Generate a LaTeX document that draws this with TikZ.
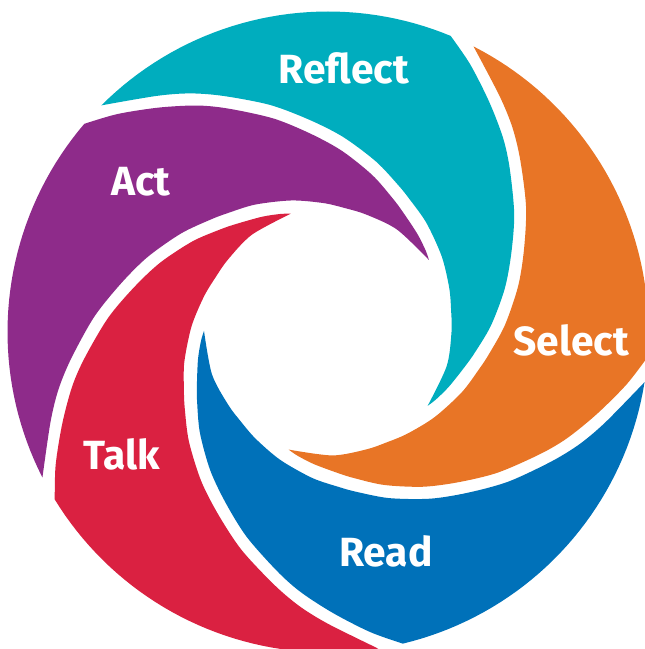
\documentclass[tikz,border=0pt]{standalone}
\usepackage{fontspec}
\setmainfont{Fira Sans}
\usepackage{tikz}
\definecolor{reflectteal}{RGB}{0,173,190}
\definecolor{selectorange}{RGB}{232,117,38}
\definecolor{readblue}{RGB}{0,113,185}
\definecolor{talkred}{RGB}{218,33,65}
\definecolor{actpurple}{RGB}{142,43,138}
\newcommand{\labelfont}{\fontsize{29}{30}\selectfont\bfseries}
% one swirl segment, inner edge, outer rim, then the edge along the next one
\newcommand{\petalpath}{plot[smooth] coordinates {(-36.5:124) (-16:123.5) (0:123.5) (10:125) (20:129) (33.5:136.5) (47.8:146.8) (58.2:155.6) (64.2:162.5) (74.2:177) (85.5:195.5) (94.9:212.8) (104.3:234.3) (113.9:258.2) (120:275.5) (126:291.8) (135:320.5)}
    -- plot[domain=135:67.5, samples=40] (\x:320.5)
    -- plot[smooth] coordinates {(67.5:320.5) (62:303) (55:281) (48:261.5) (42:244.5) (32.3:220.3) (22.9:198.8) (13.5:181.5) (2.2:163) (-7.8:148.5) (-13.8:141.6) (-24.2:132.8) (-32:127.3) (-36.5:124)}
    -- cycle}

\begin{document}
\begin{tikzpicture}[x=0.025cm, y=0.025cm, lbl/.style={text=white, font=\labelfont, anchor=base, inner sep=0pt}]

    \useasboundingbox (-328,-317) rectangle (316,332);

    \fill[reflectteal] \petalpath;
    \begin{scope}[rotate=-72]
        \fill[selectorange] \petalpath;
    \end{scope}
    \begin{scope}[rotate=-144]
        \fill[readblue] \petalpath;
    \end{scope}
    \begin{scope}[rotate=-216]
        \fill[talkred] \petalpath;
    \end{scope}
    \begin{scope}[rotate=-288]
        \fill[actpurple] \petalpath;
    \end{scope}

    \node[lbl] (reflect) at (16,248) {Reflect};
    \node[lbl] (select) at (243,-24) {Select};
    \node[lbl] (read) at (58,-234) {Read};
    \node[lbl] (talk) at (-206.5,-138) {Talk};
    \node[lbl] (act) at (-187.3,136) {Act};

\end{tikzpicture}
\end{document}
